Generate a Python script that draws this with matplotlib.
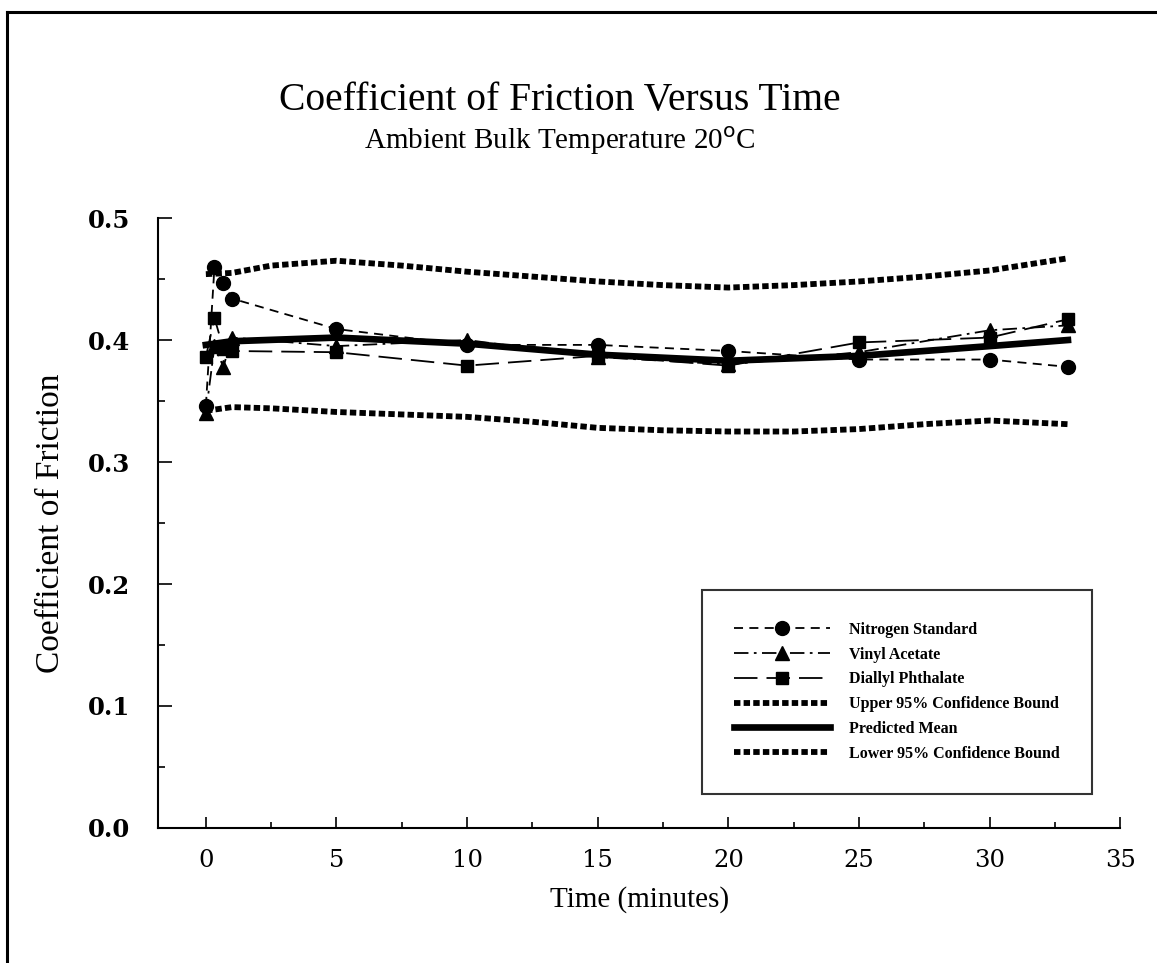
import matplotlib
matplotlib.use("Agg")
import matplotlib.pyplot as plt
from matplotlib.lines import Line2D
from matplotlib.ticker import MultipleLocator

# Data
time_pts = [0, 0.33, 0.67, 1, 5, 10, 15, 20, 25, 30, 33]
nitrogen = [0.346, 0.460, 0.447, 0.434, 0.409, 0.396, 0.396, 0.391, 0.384, 0.384, 0.378]
vinyl = [0.340, 0.395, 0.378, 0.402, 0.395, 0.400, 0.386, 0.380, 0.390, 0.408, 0.412]
diallyl = [0.386, 0.418, 0.393, 0.391, 0.390, 0.379, 0.387, 0.379, 0.398, 0.402, 0.417]

mean_t = [0, 1, 5, 10, 15, 20, 25, 30, 33]
mean_v = [0.396, 0.399, 0.402, 0.397, 0.388, 0.383, 0.387, 0.395, 0.400]

bound_t = [0, 1, 2.5, 5, 7.5, 10, 12.5, 15, 17.5, 20, 22.5, 25, 27.5, 30, 33]
upper = [0.454, 0.455, 0.461, 0.465, 0.461, 0.456, 0.452, 0.448, 0.445, 0.443, 0.445, 0.448, 0.452, 0.457, 0.467]
lower = [0.342, 0.345, 0.344, 0.341, 0.339, 0.337, 0.333, 0.328, 0.326, 0.325, 0.325, 0.327, 0.331, 0.334, 0.331]

serif = "Liberation Serif"
tickfont = "DejaVu Serif"

fig = plt.figure(figsize=(11.57, 9.63), dpi=100)
ax = fig.add_axes([0.1366, 0.1402, 0.8316, 0.6334])

bound_style = dict(color="black", lw=4.2, linestyle=(0, (1.1, 0.55)),
                   dash_capstyle="butt", solid_capstyle="butt")
ax.plot(bound_t, upper, label="Upper 95% Confidence Bound", **bound_style)
ax.plot(mean_t, mean_v, color="black", lw=4.8, label="Predicted Mean")
ax.plot(bound_t, lower, label="Lower 95% Confidence Bound", **bound_style)

ax.plot(time_pts, nitrogen, color="black", lw=1.3, linestyle=(0, (5, 3.5)),
        marker="o", ms=10, label="Nitrogen Standard")
ax.plot(time_pts, vinyl, color="black", lw=1.3, linestyle=(0, (8, 3, 1.5, 3)),
        marker="^", ms=10, label="Vinyl Acetate")
ax.plot(time_pts, diallyl, color="black", lw=1.3, linestyle=(0, (13, 5)),
        marker="s", ms=9, label="Diallyl Phthalate")

ax.set_xlim(-1.83, 35)
ax.set_ylim(0, 0.5)
ax.spines["top"].set_visible(False)
ax.spines["right"].set_visible(False)
ax.spines["left"].set_linewidth(1.5)
ax.spines["bottom"].set_linewidth(1.5)

ax.xaxis.set_major_locator(MultipleLocator(5))
ax.xaxis.set_minor_locator(MultipleLocator(2.5))
ax.yaxis.set_major_locator(MultipleLocator(0.1))
ax.yaxis.set_minor_locator(MultipleLocator(0.05))
ax.tick_params(axis="both", which="both", direction="in", width=1.2)
ax.tick_params(axis="x", which="major", length=8, pad=15)
ax.tick_params(axis="x", which="minor", length=4)
ax.tick_params(axis="y", which="major", length=10, pad=20)
ax.tick_params(axis="y", which="minor", length=5)
ax.set_yticks([0, 0.1, 0.2, 0.3, 0.4, 0.5])
ax.set_yticklabels(["0.0", "0.1", "0.2", "0.3", "0.4", "0.5"])
for lbl in ax.get_xticklabels():
    lbl.set_fontfamily(tickfont)
    lbl.set_fontsize(17.5)
for lbl in ax.get_yticklabels():
    lbl.set_fontfamily(tickfont)
    lbl.set_fontsize(17.5)
    lbl.set_fontweight("bold")

ax.set_xlabel("Time (minutes)", fontfamily=serif, fontsize=21, labelpad=10)
ax.set_ylabel("Coefficient of Friction", fontfamily=serif, fontsize=24, labelpad=16)

fig.text(0.484, 0.896, "Coefficient of Friction Versus Time", ha="center", va="center",
         fontfamily=serif, fontsize=28.5)
fig.text(0.484, 0.854, "Ambient Bulk Temperature 20$^{\\mathrm{o}}$C", ha="center",
         va="center", fontfamily=serif, fontsize=21)

handles, labels = ax.get_legend_handles_labels()
order = [3, 4, 5, 0, 1, 2]
leg = ax.legend([handles[i] for i in order], [labels[i] for i in order],
                loc="lower right", bbox_to_anchor=(0.979, 0.043), ncol=1,
                frameon=True, fancybox=False, edgecolor="black", borderpad=2.0,
                handlelength=6.0, handletextpad=1.2, labelspacing=0.55,
                prop={"family": serif, "weight": "bold", "size": 11.5})
leg.get_frame().set_linewidth(1.5)

# page frame
fig.add_artist(Line2D([0.006, 0.006], [0.0, 0.988], transform=fig.transFigure,
                      color="black", lw=2.2))
fig.add_artist(Line2D([0.006, 1.0], [0.988, 0.988], transform=fig.transFigure,
                      color="black", lw=2.2))

fig.savefig("out.png", dpi=100, facecolor="white")
